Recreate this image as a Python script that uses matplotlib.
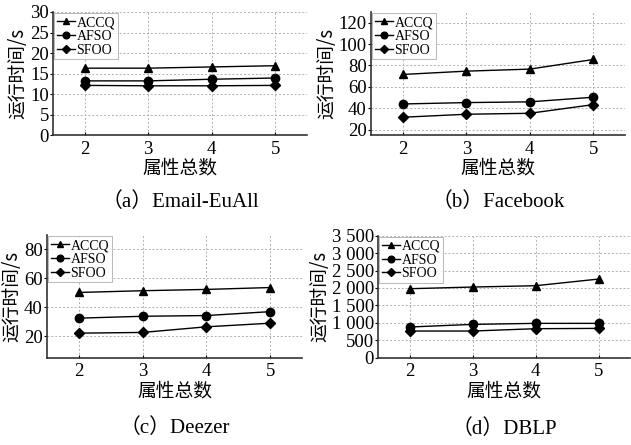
import numpy as np
import matplotlib.pyplot as plt

plt.rcParams['font.family'] = ['Liberation Serif', 'Noto Sans CJK SC']
plt.rcParams['font.size'] = 10.5

x = [2, 3, 4, 5]
names = ["ACCQ", "AFSO", "SFOO"]
markers = ["^", "o", "D"]

# (a) Email-EuAll
email = [[16.3, 16.3, 16.6, 16.9],
	[13.2, 13.2, 13.6, 13.9],
	[12.1, 12.0, 12.0, 12.1]]
# (b) Facebook
facebook = [[71.6, 74.7, 76.6, 85.6],
	[44.0, 45.3, 46.0, 50.3],
	[31.6, 34.4, 35.3, 43.4]]
# (c) Deezer
deezer = [[50.2, 51.4, 52.3, 53.6],
	[32.4, 33.7, 34.2, 36.9],
	[22.0, 22.5, 26.4, 28.9]]
# (d) DBLP
dblp = [[1979, 2027, 2065, 2256],
	[880, 956, 985, 985],
	[765, 765, 832, 841]]

captions = ["（a）Email-EuAll", "（b）Facebook", "（c）Deezer", "（d）DBLP"]
yticks = [[0, 5, 10, 15, 20, 25, 30],
	[20, 40, 60, 80, 100, 120],
	[20, 40, 60, 80],
	[0, 500, 1000, 1500, 2000, 2500, 3000, 3500]]
ytick_labels = [None, None, None,
	["0", "500", "1 000", "1 500", "2 000", "2 500", "3 000", "3 500"]]
ylims = [(0, 30), (15, 130), (5, 90), (0, 3500)]
datasets = [email, facebook, deezer, dblp]

W, H = 631, 445
boxes = [(53, 12, 307, 135), (371, 12, 625, 135),
	(47, 235, 302, 357.7), (378, 235.7, 630, 357.7)]
cap_y = [202, 202, 428, 429]

fig = plt.figure(figsize=(W/100, H/100), dpi=100)
cjk = ['Noto Sans CJK SC']

for i in range(4):
	l, t, r, b = boxes[i]
	ax = fig.add_axes([l/W, 1-b/H, (r-l)/W, (b-t)/H])
	for j in range(3):
		ax.plot(x, datasets[i][j], color="black", lw=1, marker=markers[j],
			ms=6 if markers[j] != "D" else 5.5, label=names[j])
	ax.set_xlim(1.5, 5.5)
	ax.set_ylim(*ylims[i])
	ax.set_xticks(x)
	ax.set_yticks(yticks[i])
	if ytick_labels[i]:
		ax.set_yticklabels(ytick_labels[i])
	ax.tick_params(axis='both', labelsize=13.5, length=2, width=0.8, pad=1)
	ax.tick_params(axis='x', direction='in', pad=4)
	ax.grid(True, linestyle=(0, (2, 2)), color="#b0b0b0", lw=0.7)
	for s in ["top", "right"]:
		ax.spines[s].set_visible(False)
	for s in ["left", "bottom"]:
		ax.spines[s].set_color("#333333")
		ax.spines[s].set_linewidth(1.2)
	ax.set_xlabel("属性总数", fontfamily=cjk, fontsize=13.5, labelpad=0)
	ax.set_ylabel("运行时间/s", fontfamily=cjk, fontsize=13.5, labelpad=1)
	leg = ax.legend(loc="upper left", fontsize=10, handlelength=1.3, handletextpad=0.1,
		borderpad=0.2, labelspacing=0.05, borderaxespad=0.1, fancybox=False,
		markerscale=0.8)
	leg.get_frame().set_edgecolor("#999999")
	leg.get_frame().set_linewidth(0.6)
	fig.text((l+r)/2/W, 1-cap_y[i]/H, captions[i], ha="center", va="center", fontsize=15)

fig.savefig("out.png", dpi=100)
